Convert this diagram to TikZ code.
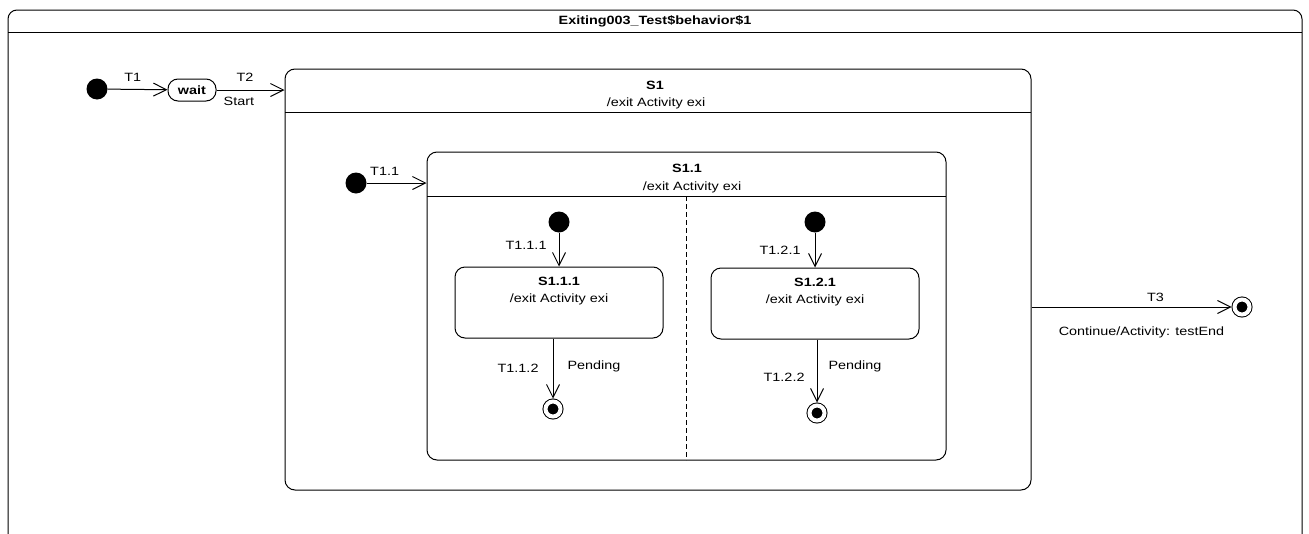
\documentclass[tikz,border=0pt]{standalone}
\usepackage{fontspec}
\setmainfont{Liberation Sans}[FakeStretch=1.2]
\usepackage{tikz}
\usetikzlibrary{positioning,arrows.meta}
\newcommand{\diagfont}{\fontsize{12}{14}\selectfont}
\tikzset{
  initdot/.style={circle, fill=black, minimum size=21pt, inner sep=0pt},
  finaldot/.style={circle, draw=black, fill=black, line width=1pt, double=white,
                   double distance=4pt, minimum size=15pt, inner sep=0pt, outer sep=3pt},
  statebox/.style={draw, line width=1pt, rounded corners=10pt, inner sep=0pt},
  leafbox/.style={statebox, minimum width=208pt, minimum height=71pt},
  waitbox/.style={draw, line width=1pt, rounded corners=10pt, minimum width=48pt,
                  minimum height=22pt, inner sep=0pt, font=\diagfont\bfseries},
  trans/.style={-{Straight Barb[length=13pt,width=13pt,line width=1pt]}, line width=1pt},
  lbl/.style={inner sep=1pt},
  nm/.style={inner sep=0pt, font=\diagfont\bfseries}
}

\begin{document}
\begin{tikzpicture}[x=1pt, y=-1pt, font=\diagfont]
  \useasboundingbox (0,0) rectangle (1309,533);

  % --- frame of the behaviour ---
  \coordinate (frame-bl) at (8,600);
  \coordinate (frame-br) at (1302,600);
  \draw[line width=1pt, rounded corners=9pt] (frame-bl) -- (8,10) -- (1302,10) -- (frame-br);
  \draw[line width=1pt] (8,32) -- (1302,32);
  \node[nm] (title) at (655,21) {Exiting003\_Test\$behavior\$1};

  % --- top level ---
  \node[initdot] (init) at (97,89) {};
  \node[waitbox] (wait) at (192,90) {wait};

  % --- S1 ---
  \node[statebox, minimum width=746pt, minimum height=421pt] (S1) at (658,279.5) {};
  \draw[line width=1pt] (285,112) -- (1031,112);
  \node[nm] (S1-name) at (655,85) {S1};
  \node[lbl] (S1-act) at (656,103) {/exit Activity exi};

  % --- S1.1 inside S1 ---
  \node[initdot] (init11) at (356,183) {};
  \node[statebox, minimum width=519pt, minimum height=308pt] (S11) at (686.5,306) {};
  \draw[line width=1pt] (427,196) -- (946,196);
  \node[nm] (S11-name) at (687,168) {S1.1};
  \node[lbl] (S11-act) at (692,187) {/exit Activity exi};
  \draw[dash pattern=on 5pt off 3pt, line width=0.9pt] (686,196) -- (686,460);

  % left region
  \node[initdot] (init111) at (559,222) {};
  \node[leafbox] (S111) at (559,302.5) {};
  \node[nm, below=10pt of S111.north] (S111-name) {S1.1.1};
  \node[lbl, below=7pt of S111-name] (S111-act) {/exit Activity exi};
  \node[finaldot] (fin112) at (553,409) {};

  % right region
  \node[initdot] (init121) at (815,222) {};
  \node[leafbox] (S121) at (815,303.5) {};
  \node[nm, below=10pt of S121.north] (S121-name) {S1.2.1};
  \node[lbl, below=7pt of S121-name] (S121-act) {/exit Activity exi};
  \node[finaldot] (fin122) at (817,413) {};

  % --- final of the top level ---
  \node[finaldot] (fin3) at (1242,307) {};

  % --- transitions ---
  \draw[trans] (init) -- node[lbl, above=6pt, pos=0.42]{T1} (wait);
  \draw[trans] (wait) -- node[lbl, above=7pt, pos=0.42]{T2}
                         node[lbl, below=6pt, pos=0.33]{Start} (wait.east -| S1.west);
  \draw[trans] (init11) -- node[lbl, above=6pt, pos=0.3]{T1.1} (init11 -| S11.west);
  \draw[trans] (init111) -- node[lbl, left=11pt, pos=0.37]{T1.1.1} (init111 |- S111.north);
  \draw[trans] (fin112 |- S111.south) -- node[lbl, left=13pt, pos=0.5]{T1.1.2}
                                         node[lbl, right=13pt, pos=0.46]{Pending} (fin112);
  \draw[trans] (init121) -- node[lbl, left=13pt, pos=0.5]{T1.2.1} (init121 |- S121.north);
  \draw[trans] (fin122 |- S121.south) -- node[lbl, left=11pt, pos=0.6]{T1.2.2}
                                         node[lbl, right=10pt, pos=0.42]{Pending} (fin122);
  \draw[trans] (fin3 -| S1.east) -- node[lbl, above=4pt, pos=0.62]{T3}
                                    node[lbl, below=18pt, pos=0.55]{Continue/Activity: testEnd} (fin3);

\end{tikzpicture}
\end{document}
